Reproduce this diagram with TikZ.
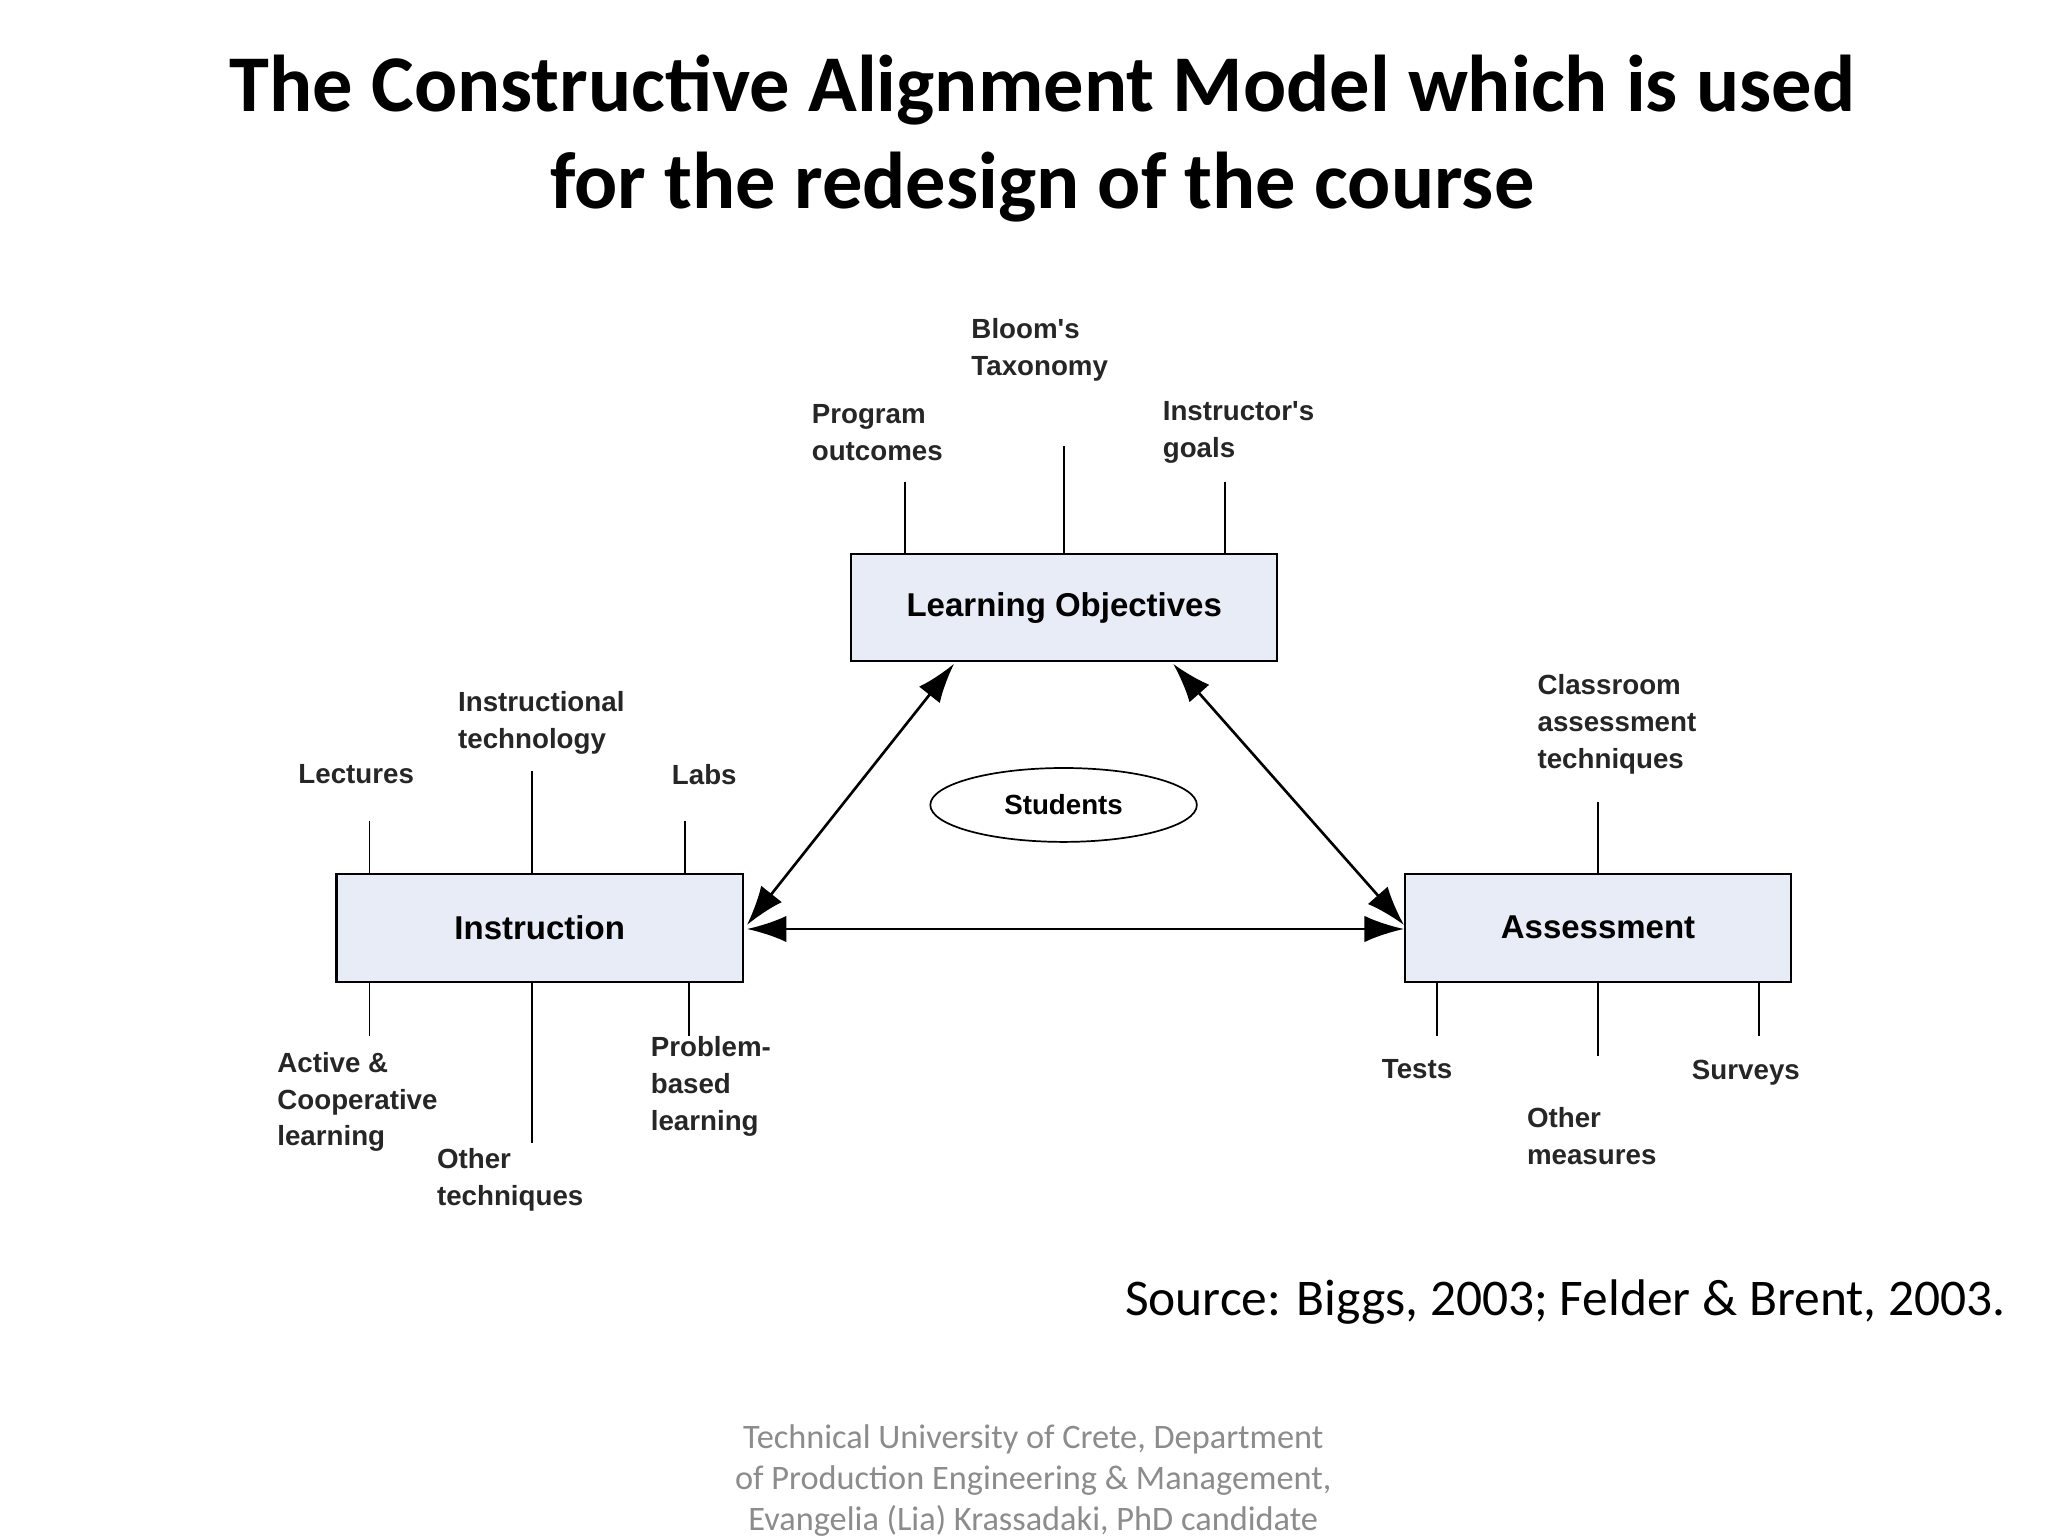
\documentclass[tikz,border=0pt]{standalone}
\usepackage{fontspec}
\setmainfont{Liberation Sans}
\newfontfamily\carlitofont{Carlito}
\usetikzlibrary{arrows.meta,shapes.geometric}
\definecolor{boxfill}{HTML}{E8ECF6}
\begin{document}
\begin{tikzpicture}[x=1pt,y=-1pt,
 box/.style={draw,line width=1.6,fill=boxfill,inner sep=0},
 lbl/.style={anchor=north west,inner sep=0,align=left,font=\fontsize{21}{28}\selectfont\bfseries,text=black!85},
 tick/.style={line width=1.5},
 arr/.style={line width=2,{Latex[length=30,width=20]}-{Latex[length=30,width=20]}}]
\useasboundingbox (0,0) rectangle (1552,1164);
\node[font=\carlitofont\fontsize{61}{74}\selectfont\bfseries,align=center] (title) at (790,105) {The Constructive Alignment Model which is used\\for the redesign of the course};
\node[box,minimum width=323,minimum height=81] (lo) at (806.5,460.5) {\fontsize{25}{30}\selectfont\bfseries Learning Objectives};
\node[box,minimum width=308,minimum height=82] (in) at (409,703) {\fontsize{25}{30}\selectfont\bfseries Instruction};
\node[box,minimum width=292,minimum height=82] (as) at (1211,703) {\fontsize{25}{30}\selectfont\bfseries Assessment};
\node[draw,ellipse,line width=1.3,minimum width=202,minimum height=56,inner sep=0] (st) at (806,610) {\fontsize{21}{26}\selectfont\bfseries Students};
% ticks
\foreach \n/\x/\y in {a/686/365,b/806/338,c/928/365}{\coordinate (lo\n) at (\x,\y); \draw[tick] (lo\n) -- (lo\n |- lo.north);}
\foreach \n/\x/\y in {a/280/622,b/403/584,c/519/622}{\coordinate (it\n) at (\x,\y); \draw[tick] (it\n) -- (it\n |- in.north);}
\foreach \n/\x/\y in {a/280/785,b/403/866,c/522/785}{\coordinate (ib\n) at (\x,\y); \draw[tick] (ib\n) -- (ib\n |- in.south);}
\coordinate (ata) at (1211,608); \draw[tick] (ata) -- (ata |- as.north);
\foreach \n/\x/\y in {a/1089/785,b/1211/800,c/1333/785}{\coordinate (ab\n) at (\x,\y); \draw[tick] (ab\n) -- (ab\n |- as.south);}
% arrows
\coordinate (p1) at (723,503); \coordinate (p2) at (566,701);
\coordinate (p3) at (889,503); \coordinate (p4) at (1064,701);
\coordinate (p5) at (566,704); \coordinate (p6) at (1064,704);
\draw[arr] (p1) -- (p2);
\draw[arr] (p3) -- (p4);
\draw[arr] (p5) -- (p6);
% labels
\node[lbl] (l1) at (736,241) {Bloom\textquotesingle s\\Taxonomy};
\node[lbl] (l2) at (615,306) {Program\\outcomes};
\node[lbl] (l3) at (881,304) {Instructor\textquotesingle s\\goals};
\node[lbl] (l4) at (347,524) {Instructional\\technology};
\node[lbl] (l5) at (226,579) {Lectures};
\node[lbl] (l6) at (509,579) {Labs};
\node[lbl] (l7) at (1165,511) {Classroom\\assessment\\techniques};
\node[lbl] (l8) at (210,797) {Active \&\\Cooperative\\learning};
\node[lbl] (l9) at (331,870) {Other\\techniques};
\node[lbl] (l10) at (493,785) {Problem-\\based\\learning};
\node[lbl] (l11) at (1047,803) {Tests};
\node[lbl] (l12) at (1157,839) {Other\\measures};
\node[lbl] (l13) at (1282,803) {Surveys};
\node[anchor=east,inner sep=0,font=\carlitofont\fontsize{39}{44}\selectfont] (src) at (1520,987) {Source: Biggs, 2003; Felder \& Brent, 2003.};
\node[align=center,font=\carlitofont\fontsize{26}{31}\selectfont,text=black!45] (ft) at (783,1122) {Technical University of Crete, Department\\of Production Engineering \& Management,\\Evangelia (Lia) Krassadaki, PhD candidate};
\end{tikzpicture}
\end{document}
